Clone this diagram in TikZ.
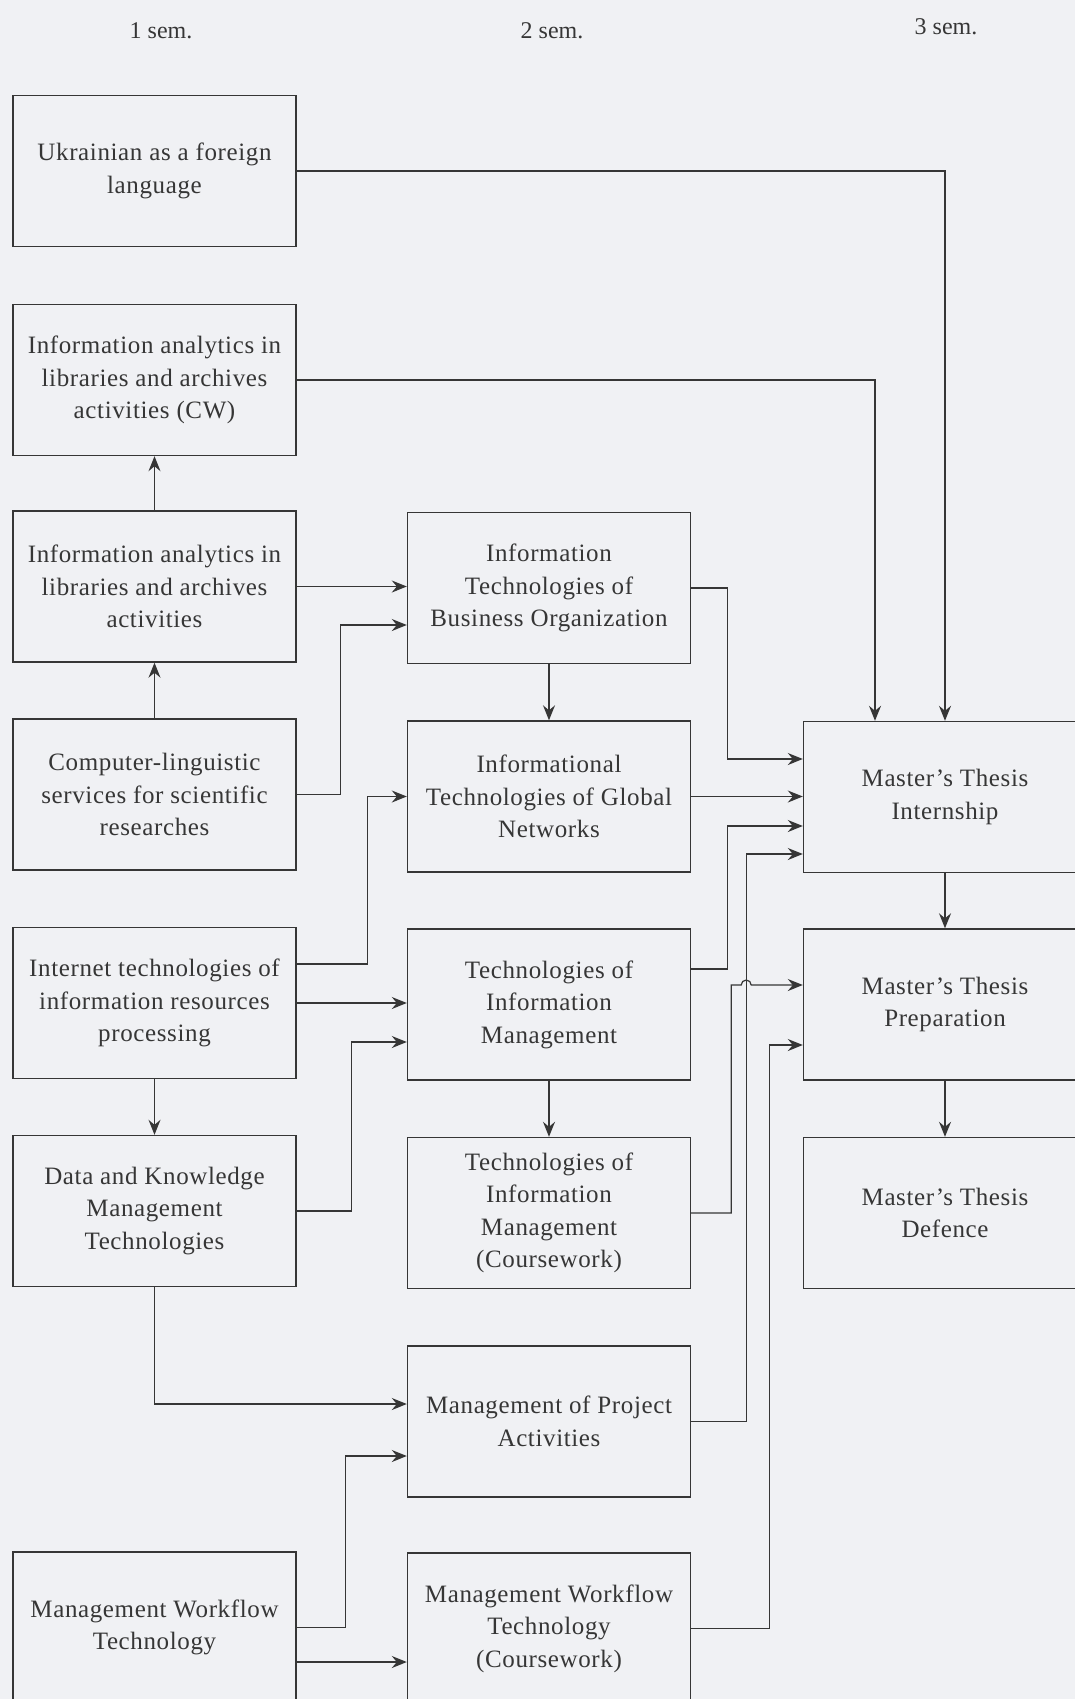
\documentclass[tikz,border=0pt]{standalone}
\usepackage{fontspec}
\setmainfont{Liberation Serif}[LetterSpace=2.5]
\usetikzlibrary{arrows.meta}
\definecolor{paper}{HTML}{F0F1F4}
\definecolor{ink}{HTML}{363636}
\tikzset{
  box/.style={draw=ink,line width=0.7pt,minimum width=141.5pt,minimum height=75.5pt,
    align=center,text=ink,inner sep=2pt,font=\fontsize{12.5}{16.25}\selectfont},
  sem/.style={text=ink,font=\fontsize{12}{14}\selectfont\addfontfeature{LetterSpace=0}},
  link/.style={draw=ink,line width=0.6pt,-{Stealth[length=7.5pt,width=6pt,inset=2.5pt]}}
}
\begin{document}
\begin{tikzpicture}[x=0.5pt,y=-0.5pt]
      \fill[paper] (0,0) rectangle (1075,1699);
      \useasboundingbox (0,0) rectangle (1075,1699);
      \draw
        (161,31) node[sem] (sem1){1 sem.}
        (552,31) node[sem] (sem2){2 sem.}
        (946,27) node[sem] (sem3){3 sem.}
        (154.5,171) node[box] (ukr){Ukrainian as a foreign\\language}
        (154.5,380) node[box] (cw){Information analytics in\\libraries and archives\\activities (CW)}
        (154.5,586.5) node[box] (ia){Information analytics in\\libraries and archives\\activities}
        (154.5,794.5) node[box] (cl){Computer-linguistic\\services for scientific\\researches}
        (154.5,1003) node[box] (it){Internet technologies of\\information resources\\processing}
        (154.5,1211) node[box] (dk){Data and Knowledge\\Management\\Technologies}
        (154.5,1627.5) node[box] (mwt){Management Workflow\\Technology}
        (549,588) node[box] (itbo){Information\\Technologies of\\Business Organization}
        (549,796.5) node[box] (itgn){Informational\\Technologies of Global\\Networks}
        (549,1004.5) node[box] (tim){Technologies of\\Information\\Management}
        (549,1213) node[box] (timc){Technologies of\\Information\\Management\\(Coursework)}
        (549,1421.5) node[box] (mpa){Management of Project\\Activities}
        (549,1628.5) node[box] (mwtc){Management Workflow\\Technology\\(Coursework)}
        (945,797) node[box] (mti){Master's Thesis\\Internship}
        (945,1004.5) node[box] (mtp){Master's Thesis\\Preparation}
        (945,1213) node[box] (mtd){Master's Thesis\\Defence};
      \path ([xshift=27.5pt]mpa.east) coordinate (mpax)
        ([yshift=9.75pt]mtp.west) coordinate (mtpin);
      \coordinate (hop) at (mpax |- mtpin);
      \begin{scope}[link]
        \draw (ukr.east) -| (mti.north);
        \draw (cw.east) -| ([xshift=-35pt]mti.north);
        \draw (ia.north) to (cw.south);
        \draw (cl.north) to (ia.south);
        \draw (ia.east) to (ia.east -| itbo.west);
        \draw (cl.east) -- ++(22pt,0) |- ([yshift=-18.5pt]itbo.west);
        \draw (itbo.south) to (itgn.north);
        \draw (itbo.east) -- ++(18pt,0) |- ([yshift=19pt]mti.west);
        \draw (itgn.east) to (itgn.east -| mti.west);
        \draw ([yshift=19.5pt]it.east) -- ++(35.5pt,0) |- (itgn.west);
        \draw (it.east) to (it.east -| tim.west);
        \draw (it.south) to (dk.north);
        \draw ([yshift=17.75pt]tim.east) -- ++(18pt,0) |- ([yshift=-14.5pt]mti.west);
        \draw (tim.south) to (timc.north);
        \draw (dk.east) -- ++(27.5pt,0) |- ([yshift=-18.75pt]tim.west);
        \draw (timc.east) -- ++(20pt,0) |- ([xshift=-2.5pt]hop) arc (180:0:2.5pt) -- (mtpin);
        \draw (mpa.east) -- (mpax) |- ([yshift=-28.5pt]mti.west);
        \draw (dk.south) |- ([yshift=8.75pt]mpa.west);
        \draw (mwt.east) -- ++(24.5pt,0) |- ([yshift=-17.25pt]mpa.west);
        \draw ([yshift=-17.25pt]mwt.east) to ([yshift=-17.25pt]mwt.east -| mwtc.west);
        \draw (mwtc.east) -- ++(39pt,0) |- ([yshift=-20.25pt]mtp.west);
        \draw (mti.south) to (mtp.north);
        \draw (mtp.south) to (mtd.north);
      \end{scope}
    \end{tikzpicture}
\end{document}
